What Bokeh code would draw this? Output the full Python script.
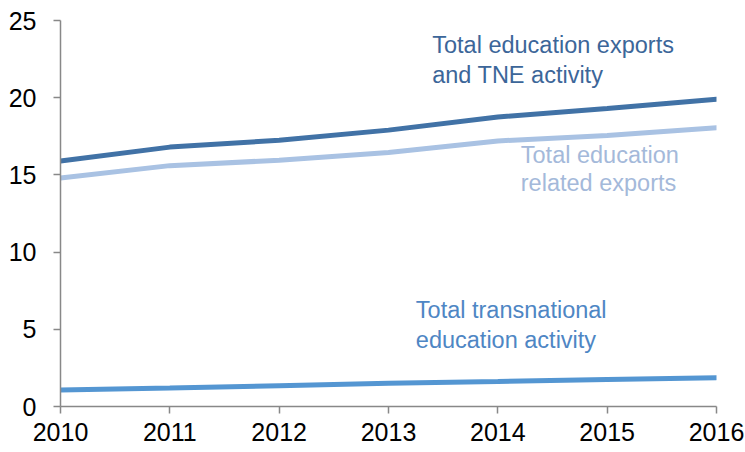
from bokeh.plotting import figure
from bokeh.models import Range1d, FixedTicker, ColumnDataSource
from bokeh.core.properties import value
from bokeh.embed import file_html
from bokeh.resources import INLINE

years = [2010, 2011, 2012, 2013, 2014, 2015, 2016]
total_exports_tne = [15.9, 16.8, 17.25, 17.9, 18.75, 19.3, 19.9]
total_related_exports = [14.8, 15.6, 15.95, 16.45, 17.2, 17.55, 18.05]
total_tne = [1.07, 1.2, 1.35, 1.5, 1.62, 1.75, 1.87]
y_ticks = [0, 5, 10, 15, 20, 25]

FONT = "Liberation Sans"

p = figure(width=745, height=452, output_backend="svg", toolbar_location=None,
           x_range=Range1d(2010, 2016), y_range=Range1d(0, 25),
           min_border_left=60, min_border_right=29, min_border_top=20, min_border_bottom=46)
p.outline_line_color = None
p.grid.visible = False
p.background_fill_color = "white"
p.border_fill_color = "white"

p.line(years, total_related_exports, line_color="#A9C2E3", line_width=5, line_cap="round")
p.line(years, total_exports_tne, line_color="#4172A6", line_width=5, line_cap="round")
p.line(years, total_tne, line_color="#5496D2", line_width=5, line_cap="round")

labels = ColumnDataSource(dict(
    x=[2013.40, 2013.40, 2014.21, 2014.21, 2013.25, 2013.25],
    y=[23.44, 21.5, 16.31, 14.48, 6.27, 4.32],
    text=["Total education exports", "and TNE activity",
          "Total education", "related exports",
          "Total transnational", "education activity"],
    color=["#3C6699", "#3C6699", "#A4B9DA", "#A4B9DA", "#4E86C4", "#4E86C4"],
))
p.text(x="x", y="y", text="text", text_color="color", source=labels,
       text_font=value(FONT), text_font_size="23.5px",
       text_align="left", text_baseline="alphabetic")

for ax in (p.xaxis, p.yaxis):
    ax.axis_line_color = "#888888"
    ax.axis_line_width = 1.5
    ax.major_tick_line_color = "#888888"
    ax.major_tick_line_width = 1.5
    ax.major_tick_out = 7
    ax.major_tick_in = 0
    ax.minor_tick_line_color = None
    ax.major_label_text_font = FONT
    ax.major_label_text_font_size = "25px"
    ax.major_label_text_color = "black"

p.xaxis.ticker = FixedTicker(ticks=years)
p.yaxis.ticker = FixedTicker(ticks=y_ticks)
p.xaxis.major_label_standoff = 9
p.yaxis.major_label_standoff = 17

open("out.html", "w").write(file_html(p, INLINE))
